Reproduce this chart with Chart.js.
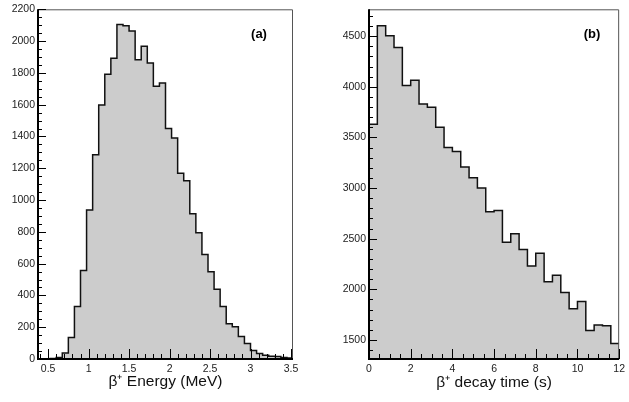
<!DOCTYPE html>
<html>
<head>
<meta charset="utf-8">
<script src="https://cdn.jsdelivr.net/npm/chart.js@4/dist/chart.umd.min.js"></script>
<style>
  body { margin: 0; background: #fff; width: 629px; height: 402px; overflow: hidden; position: relative; }
  canvas { position: absolute; top: 0; }
  #energyChart { left: 0; }
  #timeChart { left: 314px; }
</style>
</head>
<body>
<canvas id="energyChart" width="314" height="402"></canvas>
<canvas id="timeChart" width="315" height="402"></canvas>
<script>
// (a) beta+ energy spectrum: 42 bins of 0.075 MeV from 0.375 MeV
const energyStart = 0.375;
const energyBinWidth = 0.075;
const energyCounts = [0, 1, 3, 10, 38, 136, 330, 556, 938, 1285,
    1598, 1792, 1892, 2104, 2096, 2064, 1883, 1968, 1862, 1716,
    1737, 1450, 1390, 1169, 1121, 914, 794, 657, 549, 439,
    330, 222, 203, 142, 97, 53, 34, 24, 18, 15, 10, 7];
const energyTicks = [0.5, 1, 1.5, 2, 2.5, 3, 3.5];
const energyCountTicks = [0, 200, 400, 600, 800, 1000, 1200, 1400, 1600, 1800, 2000, 2200];

// (b) beta+ decay time: 30 bins of 0.4 s from 0 s
const timeStart = 0;
const timeBinWidth = 0.4;
const timeCounts = [3630, 4603, 4505, 4389, 4013, 4065, 3831, 3799, 3600, 3400,
    3361, 3208, 3101, 3000, 2766, 2779, 2464, 2549, 2393, 2230,
    2357, 2074, 2140, 1970, 1808, 1880, 1594, 1649, 1640, 1464];
const timeTicks = [0, 2, 4, 6, 8, 10, 12];
const timeCountTicks = [1500, 2000, 2500, 3000, 3500, 4000, 4500];

const FONT = "'Liberation Sans', Arial, Helvetica, sans-serif";

// histogram outline points: one per bin left edge + closing right edge
function stepPoints(start, width, counts) {
    const pts = counts.map((c, i) => ({ x: start + i * width, y: c }));
    pts.push({ x: start + counts.length * width, y: counts[counts.length - 1] });
    return pts;
}

// ROOT-like frame with inward tick marks
const frameTicks = {
    id: 'frameTicks',
    afterDatasetsDraw(chart, args, opts) {
        const { ctx, chartArea: a, scales: { x, y } } = chart;
        ctx.save();
        ctx.strokeStyle = '#555';
        ctx.lineWidth = 1;
        ctx.beginPath();
        ctx.moveTo(a.left, a.top + 0.5);
        ctx.lineTo(a.right - 0.5, a.top + 0.5);
        ctx.lineTo(a.right - 0.5, a.bottom);
        ctx.stroke();

        ctx.strokeStyle = '#000';
        ctx.lineWidth = 1;
        ctx.beginPath();
        const isMajor = (v, step) => Math.abs(v / step - Math.round(v / step)) < 1e-6;
        for (let k = Math.ceil(x.min / opts.xMinor - 1e-6); k * opts.xMinor <= x.max + 1e-6; k++) {
            const v = k * opts.xMinor;
            const px = Math.round(x.getPixelForValue(v)) + 0.5;
            const len = isMajor(v, opts.xMajor) ? 10 : 5;
            ctx.moveTo(px, a.bottom);
            ctx.lineTo(px, a.bottom - len);
        }
        for (let k = Math.ceil(y.min / opts.yMinor - 1e-6); k * opts.yMinor <= y.max + 1e-6; k++) {
            const v = k * opts.yMinor;
            const py = Math.round(y.getPixelForValue(v)) + 0.5;
            const len = isMajor(v, opts.yMajor) ? 8 : 4;
            ctx.moveTo(a.left, py);
            ctx.lineTo(a.left + len, py);
        }
        ctx.stroke();

        ctx.lineWidth = 2;
        ctx.beginPath();
        ctx.moveTo(a.left, a.top);
        ctx.lineTo(a.left, a.bottom);
        ctx.lineTo(a.right, a.bottom);
        ctx.stroke();

        ctx.fillStyle = '#000';
        ctx.font = 'bold 13px ' + FONT;
        ctx.textAlign = 'center';
        ctx.textBaseline = 'middle';
        ctx.fillText(opts.label, opts.labelX, opts.labelY);
        ctx.restore();
    }
};

function makeHistogram(canvasId, cfg) {
    return new Chart(document.getElementById(canvasId), {
        type: 'line',
        data: {
            datasets: [{
                data: stepPoints(cfg.start, cfg.width, cfg.counts),
                stepped: 'before',
                fill: 'start',
                backgroundColor: '#cccccc',
                borderColor: '#111',
                borderWidth: 1.5,
                pointRadius: 0
            }]
        },
        options: {
            responsive: false,
            animation: false,
            devicePixelRatio: 1,
            layout: { padding: cfg.padding },
            plugins: {
                legend: { display: false },
                tooltip: { enabled: false },
                frameTicks: cfg.frame
            },
            scales: {
                x: {
                    type: 'linear',
                    min: cfg.xMin,
                    max: cfg.xMax,
                    grid: { display: false, drawTicks: false },
                    border: { display: false },
                    afterBuildTicks: s => { s.ticks = cfg.xTicks.map(v => ({ value: v })); },
                    afterFit: s => { s.height = cfg.xHeight; },
                    ticks: {
                        autoSkip: false, maxRotation: 0, padding: 4,
                        callback: v => String(v),
                        color: '#222', font: { family: FONT, size: 10.5 }
                    },
                    title: {
                        display: true, text: cfg.xTitle, color: '#111',
                        font: { family: FONT, size: 15.5 },
                        padding: { top: 0, bottom: cfg.titlePad }
                    }
                },
                y: {
                    min: cfg.yMin,
                    max: cfg.yMax,
                    grid: { display: false, drawTicks: false },
                    border: { display: false },
                    afterBuildTicks: s => { s.ticks = cfg.yTicks.map(v => ({ value: v })); },
                    afterFit: s => { s.width = cfg.yWidth; },
                    ticks: {
                        autoSkip: false, padding: 3,
                        callback: v => String(v),
                        color: '#222', font: { family: FONT, size: 10.5 }
                    }
                }
            }
        },
        plugins: [frameTicks]
    });
}

makeHistogram('energyChart', {
    start: energyStart, width: energyBinWidth, counts: energyCounts,
    xMin: 0.375, xMax: 3.525, yMin: 0, yMax: 2200,
    xTicks: energyTicks, yTicks: energyCountTicks,
    xTitle: 'β⁺ Energy (MeV)', titlePad: 11,
    xHeight: 43, yWidth: 38,
    padding: { top: 6, right: 21, left: 0, bottom: 0 },
    frame: { xMinor: 0.1, xMajor: 0.5, yMinor: 50, yMajor: 200, label: '(a)', labelX: 259, labelY: 34 }
});

makeHistogram('timeChart', {
    start: timeStart, width: timeBinWidth, counts: timeCounts,
    xMin: 0, xMax: 12, yMin: 1312, yMax: 4766,
    xTicks: timeTicks, yTicks: timeCountTicks,
    xTitle: 'β⁺ decay time (s)', titlePad: 10,
    xHeight: 43, yWidth: 55,
    padding: { top: 5, right: 4.5, left: 0, bottom: 0 },
    frame: { xMinor: 0.5, xMajor: 2, yMinor: 100, yMajor: 500, label: '(b)', labelX: 278, labelY: 34 }
});
</script>
</body>
</html>
